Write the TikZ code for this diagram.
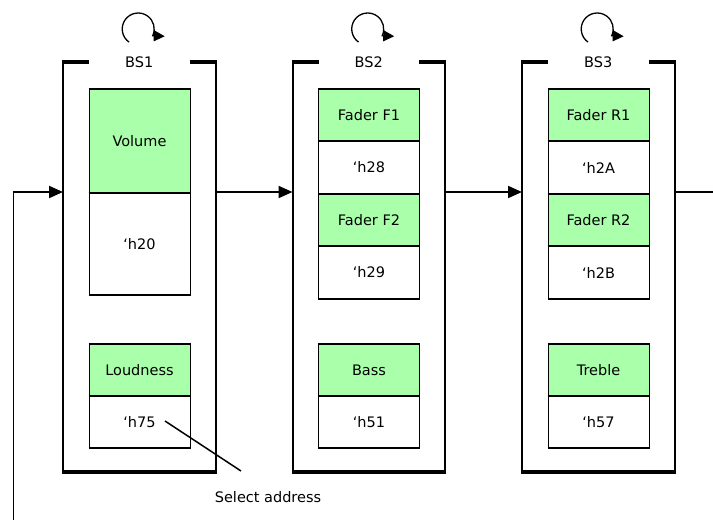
\documentclass[tikz,border=0pt]{standalone}
\usepackage{fontspec}
\setmainfont{DejaVu Sans}
\usepackage{xcolor}
\definecolor{regfill}{RGB}{170,255,170}
\usepackage{tikz}
\usetikzlibrary{arrows.meta}
\usetikzlibrary{calc}
\usetikzlibrary{positioning}

\begin{document}
\begin{tikzpicture}[x=1pt, y=-1pt, font=\fontsize{14.5}{17}\selectfont,
    bsframe/.style={minimum width=152.5pt, minimum height=410pt, inner sep=0pt, outer sep=0pt, anchor=north west},
    reg/.style={draw, line width=1pt, fill=regfill, minimum width=101pt, inner sep=0pt, anchor=north},
    addr/.style={reg, fill=white},
    side/.style={line width=2pt},
    bar/.style={line width=3.5pt},
    edge/.style={line width=2.5pt},
    flow/.style={line width=2pt, -{Triangle[length=14pt, width=12pt]}},
    loop/.style={line width=1.3pt, -{Triangle[length=11pt, width=11pt]}}]

    \useasboundingbox (0, 0) rectangle (713, 520);

    \foreach \n/\x in {1/63, 2/292.5, 3/522} {
        \node [bsframe] (bs\n) at (\x, 62) {};
        \node (t\n) at (bs\n.north) {BS\n};
        \draw [side] (bs\n.north west) -- (bs\n.south west);
        \draw [side] (bs\n.north east) -- (bs\n.south east);
        \draw [bar] ([xshift=-1pt]bs\n.north west) -- ([xshift=26pt]bs\n.north west);
        \draw [bar] ([xshift=-26pt]bs\n.north east) -- ([xshift=1pt]bs\n.north east);
        \draw [bar] ([xshift=-1pt]bs\n.south west) -- ([xshift=1pt]bs\n.south east);
        \draw [loop] ([xshift=-10.2pt, yshift=19.9pt]bs\n.north) arc [start angle=235, end angle=-25, radius=16pt] -- ++(12, 0.5);
    }

    \node [reg, minimum height=103pt] (vol) at (139.5, 89) {Volume};
    \node [addr, minimum height=101pt, below=0pt of vol] (h20) {‘h20};
    \node [reg, minimum height=51pt] (loud) at (139.5, 344) {Loudness};
    \node [addr, minimum height=51pt, below=0pt of loud] (h75) {‘h75};

    \node [reg, minimum height=51pt] (ff1) at (369, 89) {Fader F1};
    \node [addr, minimum height=52pt, below=0pt of ff1] (h28) {‘h28};
    \node [reg, minimum height=51pt, below=0pt of h28] (ff2) {Fader F2};
    \node [addr, minimum height=52pt, below=0pt of ff2] (h29) {‘h29};
    \node [reg, minimum height=51pt] (bass) at (369, 344) {Bass};
    \node [addr, minimum height=51pt, below=0pt of bass] (h51) {‘h51};

    \node [reg, minimum height=51pt] (fr1) at (598.5, 89) {Fader R1};
    \node [addr, minimum height=52pt, below=0pt of fr1] (h2A) {‘h2A};
    \node [reg, minimum height=51pt, below=0pt of h2A] (fr2) {Fader R2};
    \node [addr, minimum height=52pt, below=0pt of fr2] (h2B) {‘h2B};
    \node [reg, minimum height=51pt] (treb) at (598.5, 344) {Treble};
    \node [addr, minimum height=51pt, below=0pt of treb] (h57) {‘h57};

    \foreach \b in {vol, h20, loud, h75, ff1, h28, ff2, h29, bass, h51, fr1, h2A, fr2, h2B, treb, h57}
        \draw [edge] (\b.north west) -- (\b.north east) (\b.south west) -- (\b.south east);

    \coordinate (src) at (13, 520);
    \coordinate (feed) at (13, 192);
    \coordinate (out) at (713, 192);
    \draw [line width=1pt] (src) -- (feed);
    \draw [flow] ([xshift=-0.5pt]feed) -- (bs1.west |- feed);
    \draw [flow] (bs1.east |- feed) -- (bs2.west |- feed);
    \draw [flow] (bs2.east |- feed) -- (bs3.west |- feed);
    \draw [line width=2pt] (bs3.east |- feed) -- (out);

    \node (sel) at (268, 497) {Select address};
    \coordinate (ptr) at (165, 421);
    \coordinate (lead) at (241, 471);
    \draw [line width=1.5pt] (ptr) -- (lead);

  \end{tikzpicture}
\end{document}
